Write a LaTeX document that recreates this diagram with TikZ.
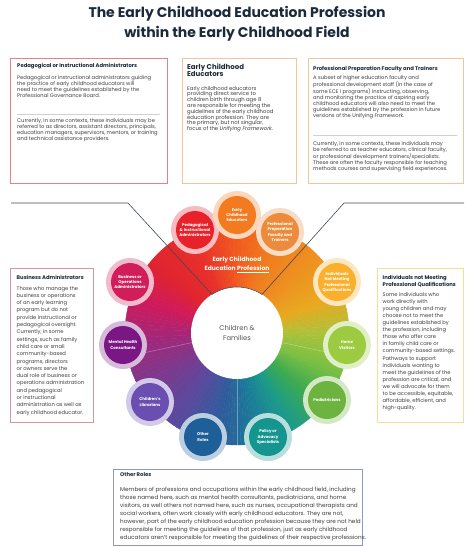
\documentclass[tikz,border=0pt]{standalone}
\usepackage{fontspec}
\setmainfont{Poppins}
\usepackage{tikz}
\usetikzlibrary{calc}
\definecolor{ecenavy}{RGB}{27,42,58}
\definecolor{ecetext}{RGB}{62,62,62}
\definecolor{ecerule}{RGB}{208,208,208}
\definecolor{hubgray}{RGB}{85,85,85}
% bubble colours
\definecolor{pedred}{RGB}{232,33,43}
\definecolor{eceorange}{RGB}{244,122,32}
\definecolor{preporange}{RGB}{236,139,60}
\definecolor{bizcrimson}{RGB}{209,30,91}
\definecolor{indyellow}{RGB}{250,176,45}
\definecolor{mhpurple}{RGB}{123,22,133}
\definecolor{homegreen}{RGB}{156,203,66}
\definecolor{libviolet}{RGB}{107,79,176}
\definecolor{pedigreen}{RGB}{108,179,63}
\definecolor{otherblue}{RGB}{30,95,154}
\definecolor{policyteal}{RGB}{21,149,143}
% frame colours
\definecolor{pedframe}{RGB}{226,128,140}
\definecolor{eceframe}{RGB}{244,196,156}
\definecolor{bizframe}{RGB}{214,150,162}
\definecolor{indframe}{RGB}{243,222,154}
\definecolor{otherframe}{RGB}{140,152,200}
% ring colours
\definecolor{ringflame}{HTML}{F25A1E}
\definecolor{ringred}{HTML}{E8302A}
\definecolor{ringscarlet}{HTML}{E0242F}
\definecolor{ringcrimson}{HTML}{D2195A}
\definecolor{ringplum}{HTML}{A0287A}
\definecolor{ringpurple}{HTML}{7A3A8E}
\definecolor{ringviolet}{HTML}{5A4A9E}
\definecolor{ringblue}{HTML}{2F5C9C}
\definecolor{ringocean}{HTML}{1A7A9A}
\definecolor{ringteal}{HTML}{1B9A8A}
\definecolor{ringgreen}{HTML}{3DAA50}
\definecolor{ringlime}{HTML}{7CC043}
\definecolor{ringolive}{HTML}{AEC23A}
\definecolor{ringamber}{HTML}{E9A91F}
\definecolor{ringtangerine}{HTML}{EE9020}
\definecolor{ringorange}{HTML}{F07A1E}
\newcommand{\ecesize}[1]{\fontsize{5.2}{#1}\selectfont}

\begin{document}
\begin{tikzpicture}[x=1pt, y=1pt,
    frame/.style={draw, line width=0.8pt, fill=white, anchor=north west, inner sep=0pt},
    boxhead/.style={anchor=north west, inner sep=0pt, align=left, text=ecenavy, font=\bfseries\fontsize{5.3}{6.6}\selectfont},
    boxtext/.style={anchor=north west, inner sep=0pt, align=left, text=ecetext},
    rule/.style={draw=ecerule, line width=0.8pt},
    bubble/.style={circle, minimum size=38pt, inner sep=0pt, align=center, text=white, font=\bfseries\fontsize{4}{5.4}\selectfont},
    lead/.style={draw=ecenavy!85, line width=0.6pt},
    spoke/.style={draw=white, opacity=0.35, line width=0.5pt}
  ]
  \useasboundingbox (0,0) rectangle (474,-547);

  % Title
  \node[align=center, text=ecenavy, font=\bfseries\fontsize{14}{20}\selectfont] (title) at (237,-24)
    {The Early Childhood Education Profession\\within the Early Childhood Field};

  % Colour wheel
  \coordinate (wheel) at (237,-333);
  \foreach \a/\b/\ca/\cb in {90/115/ringflame/ringred, 115/140/ringred/ringscarlet,
      140/160/ringscarlet/ringcrimson, 160/185/ringcrimson/ringplum, 185/210/ringplum/ringpurple,
      210/235/ringpurple/ringviolet, 235/260/ringviolet/ringblue, 260/280/ringblue/ringocean,
      280/300/ringocean/ringteal, 300/320/ringteal/ringgreen, 320/340/ringgreen/ringlime,
      340/360/ringlime/ringolive, 360/380/ringolive/ringamber, 380/405/ringamber/ringtangerine,
      405/430/ringtangerine/ringorange, 430/450/ringorange/ringflame} {
    \foreach \k in {0,...,9} {
      \pgfmathsetmacro\angA{\a+(\b-\a)*\k/10}
      \pgfmathsetmacro\angB{\a+(\b-\a)*(\k+1)/10}
      \pgfmathtruncatemacro\mixp{\k*10+5}
      \fill[fill=\cb!\mixp!\ca, draw=\cb!\mixp!\ca, line width=0.4pt]
        (wheel) -- ++(\angA:112pt) arc (\angA:\angB:112pt) -- cycle;
    }
  }
  \node[circle, fill=white, minimum size=92pt, inner sep=0pt, outer sep=0pt, align=center,
    text=hubgray, font=\fontsize{6.8}{9.4}\selectfont] (hub) at (wheel) {Children \&\\Families};

  % faint sector spokes
  \coordinate (rimA) at ($(wheel)+(192:112pt)$);
  \coordinate (rimB) at ($(wheel)+(270:112pt)$);
  \coordinate (rimC) at ($(wheel)+(-12:112pt)$);
  \draw[spoke] (hub.192) -- (rimA);
  \draw[spoke] (hub.270) -- (rimB);
  \draw[spoke] (hub.-12) -- (rimC);

  % profession sector
  \coordinate (pedend) at (11,-203);
  \coordinate (pedcorner) at (128,-203);
  \coordinate (prepend) at (464,-203);
  \coordinate (prepcorner) at (344,-203);
  \draw[lead] (pedend) -- (pedcorner) -- (hub.123);
  \draw[lead] (prepend) -- (prepcorner) -- (hub.57);
  \draw[lead] (hub.123) arc (123:57:46pt);
  \node[align=center, text=white, font=\bfseries\fontsize{6}{9}\selectfont] (proflabel) at (237,-265)
    {Early Childhood\\Education \underline{Profession}};

  % Role bubbles
  \foreach \nm/\x/\y/\col/\txt in {
      biz/130/282/bizcrimson/{Business or\\Operations\\Administrators},
      ind/337/282/indyellow/{Individuals\\Not Meeting\\Professional\\Qualifications},
      mh/123/345/mhpurple/{Mental Health\\Consultants},
      home/347/345/homegreen/{Home\\Visitors},
      lib/150/402/libviolet/{Children's\\Librarians},
      peds/327/400/pedigreen/{Pediatricians},
      other/203/437/otherblue/{Other\\Roles},
      policy/268/437/policyteal/{Policy or\\Advocacy\\Specialists},
      ped/195/230/pedred/{Pedagogical\\\& Instructional\\Administrators},
      prep/280/232/preporange/{Professional\\Preparation\\Faculty and\\Trainers},
      ece/237/215/eceorange/{Early\\Childhood\\Educators}} {
    \fill[\col!30!white] (\x,-\y) circle (24pt);
    \node[bubble, fill=\col] (\nm) at (\x,-\y) {\txt};
  }

  % Pedagogical or instructional administrators
  \node[frame, draw=pedframe, minimum width=157pt, minimum height=125pt] (pedbox) at (10,-58) {};
  \node[boxhead] (pedtitle) at (17,-63.5) {Pedagogical or Instructional Administrators};
  \node[boxtext, font=\ecesize{6}] (pedtext) at (17,-75.8)
    {Pedagogical or instructional administrators guiding\\
     the practice of early childhood educators will\\
     need to meet the guidelines established by the\\
     Professional Governance Board.};
  \draw[rule] (17,-114) -- (160,-114);
  \node[boxtext, font=\ecesize{6}] (pedmore) at (17,-118.3)
    {Currently, in some contexts, these individuals may be\\
     referred to as directors, assistant directors, principals,\\
     education managers, supervisors, mentors, or training\\
     and technical assistance providers.};

  % Early childhood educators
  \node[frame, draw=eceframe, minimum width=114pt, minimum height=125pt] (ecebox) at (182,-58) {};
  \node[boxhead, font=\bfseries\fontsize{7}{7.2}\selectfont] (ecetitle) at (187,-63.5)
    {Early Childhood\\Educators};
  \node[boxtext, font=\fontsize{5.3}{5.8}\selectfont] (ecetext) at (187,-85.8)
    {Early childhood educators\\
     providing direct service to\\
     children birth through age 8\\
     are responsible for meeting the\\
     guidelines of the early childhood\\
     education profession. They are\\
     the primary, but not singular,\\
     focus of the \textit{Unifying Framework}.};

  % Professional preparation faculty and trainers
  \node[frame, draw=eceframe, minimum width=155pt, minimum height=125pt] (prepbox) at (308,-58) {};
  \node[boxhead] (preptitle) at (313,-66.5) {Professional Preparation Faculty and Trainers};
  \node[boxtext, font=\ecesize{5.9}] (preptext) at (313,-75.3)
    {A subset of higher education faculty and\\
     professional development staff (in the case of\\
     some ECE I programs) instructing, observing,\\
     and monitoring the practice of aspiring early\\
     childhood educators will also need to meet the\\
     guidelines established by the profession in future\\
     versions of the Unifying Framework.};
  \draw[rule] (313,-135) -- (457,-135);
  \node[boxtext, font=\ecesize{5.9}] (prepmore) at (313,-141)
    {Currently, in some contexts, these individuals may\\
     be referred to as teacher educators, clinical faculty,\\
     or professional development trainers/specialists.\\
     These are often the faculty responsible for teaching\\
     methods courses and supervising field experiences.};

  % Business administrators
  \node[frame, draw=bizframe, minimum width=83pt, minimum height=154pt] (bizbox) at (10,-268) {};
  \node[boxhead] (biztitle) at (16.5,-275.4) {Business Administrators};
  \node[boxtext, font=\ecesize{7.3}] (biztext) at (16.5,-286)
    {Those who manage the\\
     business or operations\\
     of an early learning\\
     program but do not\\
     provide instructional or\\
     pedagogical oversight.\\
     Currently, in some\\
     settings, such as family\\
     child care or small\\
     community-based\\
     programs, directors\\
     or owners serve the\\
     dual role of business or\\
     operations administration\\
     and pedagogical\\
     or instructional\\
     administration as well as\\
     early childhood educator.};

  % Individuals not meeting professional qualifications
  \node[frame, draw=indframe, minimum width=86pt, minimum height=154pt] (indbox) at (377,-268) {};
  \node[boxhead] (indtitle) at (382.5,-275.4) {Individuals not Meeting\\Professional Qualifications};
  \node[boxtext, font=\ecesize{7.1}] (indtext) at (382.5,-292)
    {Some individuals who\\
     work directly with\\
     young children and may\\
     choose not to meet the\\
     guidelines established by\\
     the profession, including\\
     those who offer care\\
     in family child care or\\
     community-based settings.\\
     Pathways to support\\
     individuals wanting to\\
     meet the guidelines of the\\
     profession are critical, and\\
     we will advocate for them\\
     to be accessible, equitable,\\
     affordable, efficient, and\\
     high-quality.};

  % Other roles
  \node[frame, draw=otherframe, minimum width=249pt, minimum height=76pt] (otherbox) at (113,-469) {};
  \node[boxhead] (othertitle) at (120,-472.7) {Other Roles};
  \node[boxtext, font=\fontsize{5.7}{8}\selectfont] (othertext) at (120,-486.7)
    {Members of professions and occupations within the early childhood field, including\\
     those named here, such as mental health consultants, pediatricians, and home\\
     visitors, as well others not named here, such as nurses, occupational therapists and\\
     social workers, often work closely with early childhood educators. They are not,\\
     however, part of the early childhood education profession because they are not held\\
     responsible for meeting the guidelines of that profession, just as early childhood\\
     educators aren't responsible for meeting the guidelines of their respective professions.};
\end{tikzpicture}
\end{document}
